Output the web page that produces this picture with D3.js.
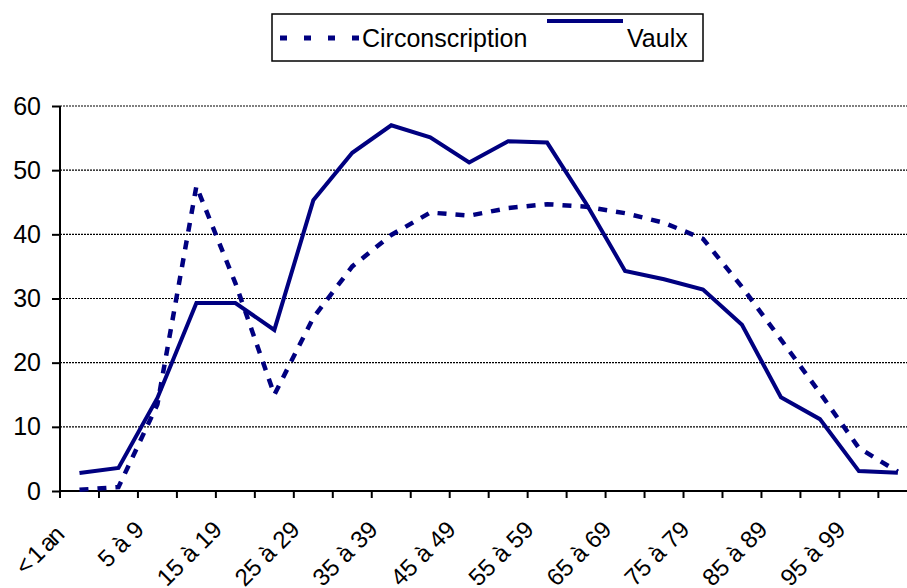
<!DOCTYPE html>
<html>
<head>
<meta charset="utf-8">
<script src="https://cdn.jsdelivr.net/npm/d3@7/dist/d3.min.js"></script>
<style>
  html, body { margin: 0; padding: 0; background: #fff; }
  svg { display: block; }
  text { font-family: "Liberation Sans", Arial, sans-serif; fill: #000; }
</style>
</head>
<body>
<svg id="chart" width="907" height="588"></svg>
<script>
const categories = ["< 1 an", "1 à 4", "5 à 9", "10 à 14", "15 à 19", "20 à 24", "25 à 29", "30 à 34",
  "35 à 39", "40 à 44", "45 à 49", "50 à 54", "55 à 59", "60 à 64", "65 à 69", "70 à 74",
  "75 à 79", "80 à 84", "85 à 89", "90 à 94", "95 à 99", "100 et +"];
const circonscription = [0.2, 0.6, 13.5, 47.5, 32.4, 15.0, 27.0, 35.0, 39.9, 43.4, 42.9, 44.1,
  44.7, 44.3, 43.3, 41.8, 39.3, 31.8, 23.6, 15.3, 6.7, 3.0];
const vaulx = [2.8, 3.6, 14.5, 29.3, 29.3, 25.1, 45.3, 52.7, 57.0, 55.1, 51.2, 54.5,
  54.3, 44.8, 34.3, 33.0, 31.4, 25.9, 14.6, 11.2, 3.1, 2.85];
const yTicks = [0, 10, 20, 30, 40, 50, 60];
const seriesNames = ["Circonscription", "Vaulx"];

const svg = d3.select("#chart");
const navy = "#000080";
const left = 60, axisY = 491, topY = 106, band = 38.97;

const x = d3.scaleBand().domain(categories).range([left, left + band * categories.length]).padding(0);
const y = d3.scaleLinear().domain([0, 60]).range([axisY, topY]);
const cx = d => x(d) + x.bandwidth() / 2;

// gridlines
svg.append("g").selectAll("line").data(yTicks.filter(t => t > 0)).join("line")
  .attr("x1", left).attr("x2", 907)
  .attr("y1", d => y(d)).attr("y2", d => y(d))
  .attr("stroke", "#000").attr("stroke-width", 1.2).attr("stroke-dasharray", "2,1");

// y axis
const yAxis = d3.axisLeft(y).tickValues(yTicks).tickSize(8).tickPadding(11).tickFormat(d3.format("d"));
const gy = svg.append("g").attr("transform", `translate(${left},0)`).call(yAxis);
gy.select(".domain").attr("stroke", "#000").attr("stroke-width", 2).attr("d", `M0,${topY}V${axisY}`);
gy.selectAll(".tick line").attr("stroke", "#000").attr("stroke-width", 2);
gy.selectAll(".tick text").attr("font-size", 25).attr("font-family", "Liberation Sans, Arial, sans-serif").attr("fill", "#000");

// x axis line and ticks (ticks at band boundaries)
svg.append("line").attr("x1", left).attr("x2", 907).attr("y1", axisY).attr("y2", axisY)
  .attr("stroke", "#000").attr("stroke-width", 2);
svg.append("g").selectAll("line").data(categories).join("line")
  .attr("x1", d => x(d)).attr("x2", d => x(d))
  .attr("y1", axisY).attr("y2", axisY + 7)
  .attr("stroke", "#000").attr("stroke-width", 2);

// x labels (every other)
svg.append("g").selectAll("text").data(categories.filter((c, i) => i % 2 === 0)).join("text")
  .attr("transform", (d, i) => i === 0
      ? `translate(${cx(d) - 15},${537}) rotate(-45)`
      : `translate(${cx(d) - 12},${531}) rotate(-45)`)
  .attr("text-anchor", "end")
  .attr("font-size", 24)
  .attr("letter-spacing", (d, i) => i === 0 ? "-2px" : null)
  .text(d => d);

// lines
const line = d3.line().x((d, i) => cx(categories[i])).y(d => y(d));
svg.append("path").datum(circonscription).attr("d", line)
  .attr("fill", "none").attr("stroke", navy).attr("stroke-width", 4.5)
  .attr("stroke-dasharray", "9,9");
svg.append("path").datum(vaulx).attr("d", line)
  .attr("fill", "none").attr("stroke", navy).attr("stroke-width", 4)
  .attr("stroke-linejoin", "miter");

// legend
const lg = svg.append("g");
lg.append("rect").attr("x", 272).attr("y", 14).attr("width", 431).attr("height", 47)
  .attr("fill", "#fff").attr("stroke", "#000").attr("stroke-width", 1.5);
lg.append("line").attr("x1", 280).attr("x2", 359).attr("y1", 38).attr("y2", 38)
  .attr("stroke", navy).attr("stroke-width", 5).attr("stroke-dasharray", "7,17");
lg.append("text").attr("x", 362).attr("y", 47).attr("font-size", 25).text(seriesNames[0]);
lg.append("line").attr("x1", 547).attr("x2", 623).attr("y1", 21).attr("y2", 21)
  .attr("stroke", navy).attr("stroke-width", 4);
lg.append("text").attr("x", 627).attr("y", 47).attr("font-size", 25).text(seriesNames[1]);
</script>
</body>
</html>
